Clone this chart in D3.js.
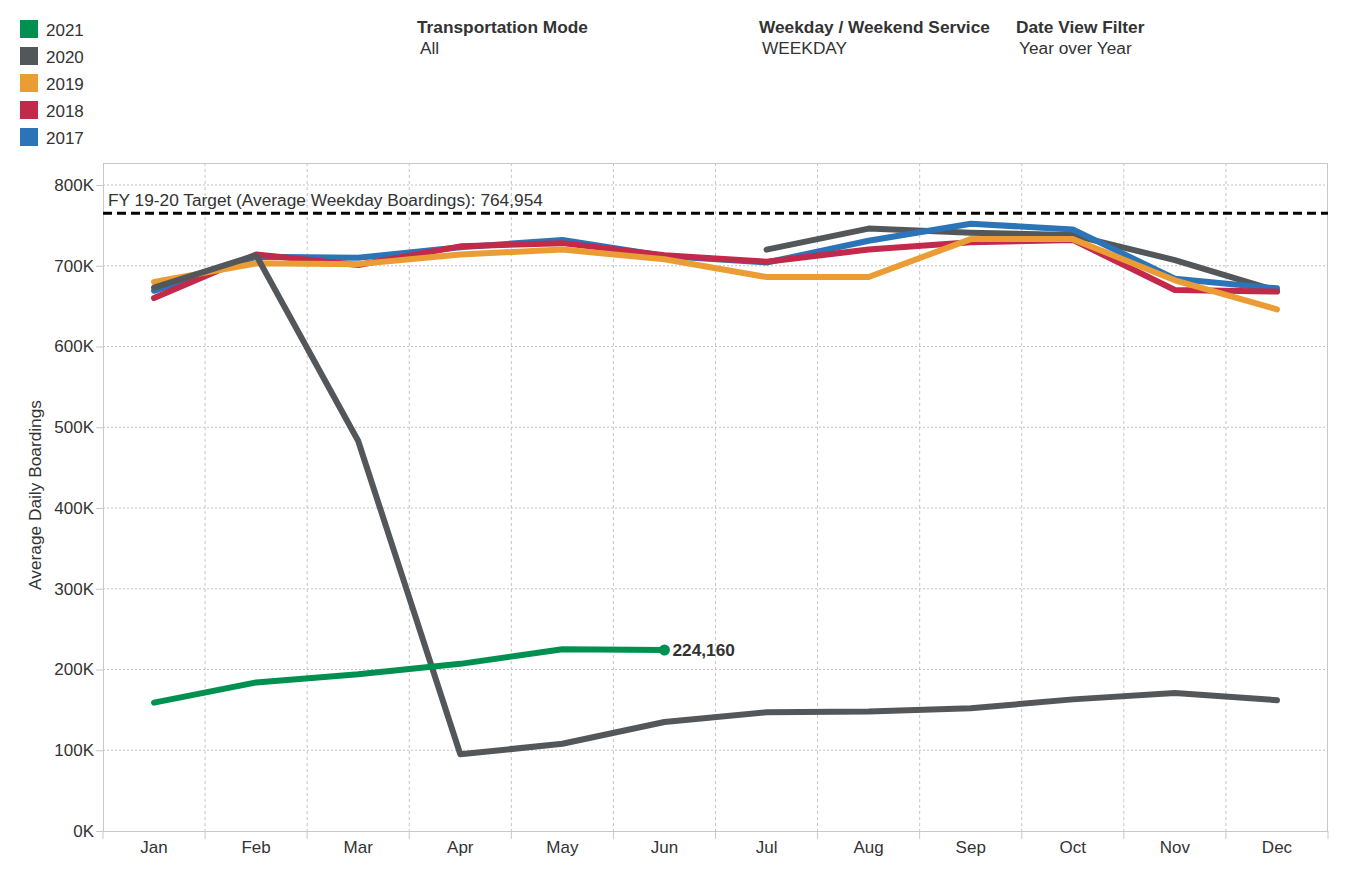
<!DOCTYPE html>
<html><head><meta charset="utf-8">
<script src="https://cdn.jsdelivr.net/npm/d3@7"></script>
<style>
body{margin:0;background:#fff;}
text{font-family:"Liberation Sans",Arial,sans-serif;}
</style></head>
<body><svg id="c" width="1348" height="876"></svg>
<script>
const months = ["Jan","Feb","Mar","Apr","May","Jun","Jul","Aug","Sep","Oct","Nov","Dec"];
const yTicks = [0,100000,200000,300000,400000,500000,600000,700000,800000];
const legendYears = ["2021","2020","2019","2018","2017"];
const colors = {"2021":"#009150","2020":"#53575a","2019":"#ec9c34","2018":"#c3294a","2017":"#2c74b8"};
const y2017 = [669000,711000,710000,723000,732000,712000,704000,731000,752000,745000,684000,672000];
const y2018 = [660000,714000,701000,724000,728000,713000,705000,720000,729000,732000,670000,668000];
const y2019 = [680000,703000,702000,714000,720000,708000,686000,686000,733000,733000,682000,646000];
const y2020 = [673000,713000,483000,95000,108000,135000,147000,148000,152000,163000,171000,162000];
const y2020b = [null,null,null,null,null,null,720000,746000,741000,738000,707000,669000];
const y2021 = [159000,184000,194000,207000,225000,224160,null,null,null,null,null,null];
const target = 764954;
const filters = [["Transportation Mode","All"],["Weekday / Weekend Service","WEEKDAY"],["Date View Filter","Year over Year"]];

const FS = 17.3;
const svg = d3.select("#c");
const L=103,R=1328,T=163,B=831;
const x = d3.scaleBand().domain(months).range([L,R]);
const y = d3.scaleLinear().domain([0,800000]).range([B,185]);

// legend
const lg = svg.append("g");
legendYears.forEach((yr,i)=>{
  lg.append("rect").attr("x",20).attr("y",20+i*27).attr("width",18).attr("height",18).attr("fill",colors[yr]);
  lg.append("text").attr("x",46).attr("y",36+i*27).attr("font-size",17).attr("fill","#333").text(yr);
});
// filters
const fx=[417,759,1016];
filters.forEach((f,i)=>{
  svg.append("text").attr("x",fx[i]).attr("y",33).attr("font-size",FS).attr("font-weight","bold").attr("fill","#333").text(f[0]);
  svg.append("text").attr("x",fx[i]+3).attr("y",54).attr("font-size",FS).attr("fill","#333").text(f[1]);
});

// grid
const g = svg.append("g");
months.slice(1).forEach(m=>{
  g.append("line").attr("x1",x(m)).attr("x2",x(m)).attr("y1",T).attr("y2",B)
   .attr("stroke","#c4c4c4").attr("stroke-width",1).attr("stroke-dasharray","3,3");
});
yTicks.slice(1).forEach(v=>{
  g.append("line").attr("x1",L).attr("x2",R).attr("y1",y(v)).attr("y2",y(v))
   .attr("stroke","#c4c4c4").attr("stroke-width",1).attr("stroke-dasharray","2,2");
});
// frame
g.append("line").attr("x1",L).attr("x2",R).attr("y1",T+0.5).attr("y2",T+0.5).attr("stroke","#c8c8c8");
g.append("line").attr("x1",R-0.5).attr("x2",R-0.5).attr("y1",T).attr("y2",B).attr("stroke","#c8c8c8");

// y axis
const ya = svg.append("g").attr("transform",`translate(${L},0)`)
  .call(d3.axisLeft(y).tickValues(yTicks).tickFormat(d=>(d/1000)+"K").tickSize(7).tickPadding(2));
ya.select(".domain").attr("stroke","#c8c8c8").attr("d",`M0.5,${T}V${B}`);
ya.selectAll(".tick line").attr("stroke","#c8c8c8");
ya.selectAll("text").attr("font-size",17).attr("fill","#333").attr("font-family","Liberation Sans, Arial, sans-serif");
svg.append("text").attr("transform","translate(41,495) rotate(-90)").attr("text-anchor","middle")
  .attr("font-size",FS).attr("fill","#333").text("Average Daily Boardings");

// x axis
const xa = svg.append("g").attr("transform",`translate(0,${B})`)
  .call(d3.axisBottom(x).tickSize(0).tickPadding(10));
xa.select(".domain").attr("stroke","#c8c8c8").attr("d",`M${L},0.5H${R}`);
xa.selectAll("text").attr("font-size",17).attr("fill","#333").attr("font-family","Liberation Sans, Arial, sans-serif");
const bounds = months.map(m=>x(m)).concat([R]);
bounds.forEach(b=>{
  svg.append("line").attr("x1",b).attr("x2",b).attr("y1",B).attr("y2",B+8).attr("stroke","#c8c8c8");
});

// target
svg.append("line").attr("x1",L).attr("x2",R).attr("y1",y(target)).attr("y2",y(target))
  .attr("stroke","#000").attr("stroke-width",3).attr("stroke-dasharray","9,5");
svg.append("text").attr("x",108).attr("y",206).attr("font-size",FS).attr("fill","#333")
  .text("FY 19-20 Target (Average Weekday Boardings): "+d3.format(",")(target));

// lines
const cx = m=>x(m)+x.bandwidth()/2;
const line = d3.line().defined(d=>d[1]!=null).x(d=>cx(d[0])).y(d=>y(d[1]));
const series = [["2020",y2020b],["2017",y2017],["2018",y2018],["2019",y2019],["2020",y2020],["2021",y2021]];
series.forEach(([yr,vals])=>{
  svg.append("path").datum(months.map((m,i)=>[m,vals[i]])).attr("d",line)
    .attr("fill","none").attr("stroke",colors[yr]).attr("stroke-width",6)
    .attr("stroke-linejoin","round").attr("stroke-linecap","round");
});
// end point
const lastI = 5;
svg.append("circle").attr("cx",cx(months[lastI])).attr("cy",y(y2021[lastI])).attr("r",5.5).attr("fill",colors["2021"]);
svg.append("text").attr("x",cx(months[lastI])+8).attr("y",y(y2021[lastI])+6).attr("font-size",FS)
  .attr("font-weight","bold").attr("fill","#333").text(d3.format(",")(y2021[lastI]));
</script></body></html>
